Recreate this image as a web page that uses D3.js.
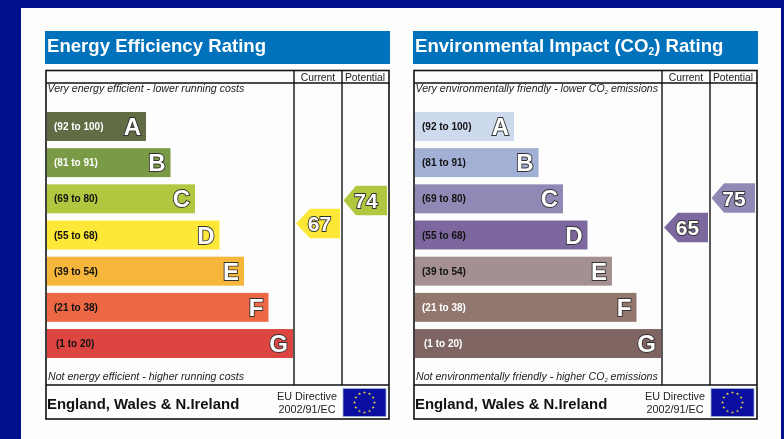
<!DOCTYPE html>
<html>
<head>
<meta charset="utf-8">
<script src="https://cdn.jsdelivr.net/npm/d3@7"></script>
<style>
html, body { margin: 0; padding: 0; background: #00108a; overflow: hidden; }
svg { display: block; filter: blur(0.45px); }
text { font-family: "Liberation Sans", Arial, sans-serif; }
</style>
</head>
<body>
<svg id="chart" width="784" height="439"></svg>
<script>
// Chart values
const bands = ['A', 'B', 'C', 'D', 'E', 'F', 'G'];
const ranges = ['(92 to 100)', '(81 to 91)', '(69 to 80)', '(55 to 68)', '(39 to 54)', '(21 to 38)', '(1 to 20)'];
const energyColors = ['#616c45', '#7a9a45', '#b3c63f', '#fde737', '#f6b53b', '#ec6845', '#dd4540'];
const enviroColors = ['#cdd9ec', '#a3b0d5', '#8f8ab5', '#7c689e', '#a49090', '#92776f', '#7f6562'];
const energyLabelColors = ['#fff', '#fff', '#111', '#111', '#111', '#111', '#111'];
const enviroLabelColors = ['#111', '#111', '#111', '#111', '#111', '#fff', '#fff'];
const energyRatings = { current: 67, potential: 74 };
const enviroRatings = { current: 65, potential: 75 };
const ratingTicks = [65, 67, 74, 75];
const starHours = d3.range(12);

const svg = d3.select('#chart');
const WIDE = 344;

// white page
svg.append('rect').attr('x', 21).attr('y', 8).attr('width', 760).attr('height', 431).attr('fill', '#fdfdfd');

// Scales shared by both panels, positions are relative to the panel's left side
const yBand = d3.scaleBand().domain(bands).range([112, 358]).paddingInner(0.2);
const xEnd = d3.scalePoint().domain(bands).range([100, 247]);
const yRating = d3.scaleLinear().domain(ratingTicks).range([227.5, 223.5, 200.5, 198]);
const starAngle = d3.scaleLinear().domain([0, 12]).range([0, 2 * Math.PI]);

function addRich(sel, parts) {
    // parts are plain strings, or [string] for a subscript
    parts.forEach(p => {
        if (Array.isArray(p)) {
            sel.append('tspan').text(p[0]).attr('font-size', '0.55em').attr('dy', '0.32em');
        } else {
            const t = sel.append('tspan').text(p);
            if (sel.selectAll('tspan').size() > 1) t.attr('dy', '-0.18em');
        }
    });
}

function drawPanel(left, opts) {
    const g = svg.append('g').attr('transform', `translate(${left},0)`);

    // Title strip
    g.append('rect').attr('x', -1).attr('y', 31).attr('width', WIDE + 1).attr('height', 33).attr('fill', '#0071bb');
    const title = g.append('text').attr('x', 1).attr('y', 52).attr('fill', '#fff')
        .attr('font-size', 18.6).attr('font-weight', 'bold');
    addRich(title, opts.title);

    // Frame
    const lineCol = '#111';
    g.append('rect').attr('x', 0).attr('y', 70.5).attr('width', 343).attr('height', 348.5)
        .attr('fill', 'none').attr('stroke', lineCol).attr('stroke-width', 1.6);
    [[0, 83, 343, 83], [0, 385, 343, 385], [248, 70, 248, 385], [296, 70, 296, 385]].forEach(l => {
        g.append('line').attr('x1', l[0]).attr('y1', l[1]).attr('x2', l[2]).attr('y2', l[3])
            .attr('stroke', lineCol).attr('stroke-width', 1.4);
    });

    g.append('text').attr('x', 272).attr('y', 81).attr('text-anchor', 'middle').attr('font-size', 10.3)
        .attr('fill', '#222').text('Current');
    g.append('text').attr('x', 319).attr('y', 81).attr('text-anchor', 'middle').attr('font-size', 10.3)
        .attr('fill', '#222').text('Potential');

    // Top and bottom captions
    const top = g.append('text').attr('x', 1.5).attr('y', 92).attr('font-size', 10.6)
        .attr('font-style', 'italic').attr('fill', '#222');
    addRich(top, opts.topText);
    const bottom = g.append('text').attr('x', 2).attr('y', 380).attr('font-size', 10.6)
        .attr('font-style', 'italic').attr('fill', '#222');
    addRich(bottom, opts.bottomText);

    // Bars
    g.selectAll('rect.bar').data(bands).join('rect').attr('class', 'bar')
        .attr('x', 1)
        .attr('y', d => yBand(d))
        .attr('width', d => xEnd(d) - 1)
        .attr('height', yBand.bandwidth())
        .attr('fill', (d, i) => opts.colors[i]);

    g.selectAll('text.range').data(bands).join('text').attr('class', 'range')
        .attr('x', d => d === 'G' ? 10 : 8)
        .attr('y', d => yBand(d) + yBand.bandwidth() / 2 + 3.5)
        .attr('font-size', 10).attr('font-weight', 'bold')
        .attr('fill', (d, i) => opts.labelColors[i])
        .text((d, i) => ranges[i]);

    g.selectAll('text.letter').data(bands).join('text').attr('class', 'letter')
        .attr('x', d => xEnd(d) - 5)
        .attr('y', d => yBand(d) + yBand.bandwidth() / 2 + 8.5)
        .attr('text-anchor', 'end').attr('font-size', 24).attr('font-weight', 'bold')
        .attr('fill', '#fff').attr('stroke', '#333').attr('stroke-width', 1.8)
        .attr('paint-order', 'stroke')
        .text(d => d);

    // Rating arrows
    const arrows = [
        { value: opts.ratings.current, tip: 250, neck: 264, right: 294 },
        { value: opts.ratings.potential, tip: 297.5, neck: 310, right: 341 }
    ];
    const bandOf = v => v >= 92 ? 0 : v >= 81 ? 1 : v >= 69 ? 2 : v >= 55 ? 3 : v >= 39 ? 4 : v >= 21 ? 5 : 6;
    arrows.forEach(a => {
        const cy = yRating(a.value);
        const half = 14.7;
        const path = d3.path();
        path.moveTo(a.tip, cy);
        path.lineTo(a.neck, cy - half);
        path.lineTo(a.right, cy - half);
        path.lineTo(a.right, cy + half);
        path.lineTo(a.neck, cy + half);
        path.closePath();
        g.append('path').attr('d', path.toString()).attr('fill', opts.colors[bandOf(a.value)]);
        g.append('text').attr('x', (a.neck + a.right) / 2 - 5.5).attr('y', cy + 7.5)
            .attr('text-anchor', 'middle').attr('font-size', 21).attr('font-weight', 'bold')
            .attr('fill', '#fff').attr('stroke', '#333').attr('stroke-width', 1.8)
            .attr('paint-order', 'stroke').text(a.value);
    });

    // Footer
    g.append('text').attr('x', 1).attr('y', 409).attr('font-size', 14.9).attr('font-weight', 'bold')
        .attr('fill', '#111').text('England, Wales & N.Ireland');
    g.append('text').attr('x', 261).attr('y', 400).attr('text-anchor', 'middle').attr('font-size', 10.8)
        .attr('fill', '#222').text('EU Directive');
    g.append('text').attr('x', 261).attr('y', 413).attr('text-anchor', 'middle').attr('font-size', 10.8)
        .attr('fill', '#222').text('2002/91/EC');

    // EU flag
    g.append('rect').attr('x', 297).attr('y', 388.5).attr('width', 43).attr('height', 28)
        .attr('fill', '#0a0fa0').attr('stroke', '#9db4d8').attr('stroke-width', 0.8);
    const star = d3.symbol().type(d3.symbolStar).size(3);
    g.selectAll('path.star').data(starHours).join('path').attr('class', 'star')
        .attr('d', star).attr('fill', '#f5dc3a')
        .attr('transform', d => `translate(${318.5 + 10 * Math.sin(starAngle(d))},${402.5 - 10 * Math.cos(starAngle(d))})`);
}

drawPanel(46, {
    title: ['Energy Efficiency Rating'],
    topText: ['Very energy efficient - lower running costs'],
    bottomText: ['Not energy efficient - higher running costs'],
    colors: energyColors,
    labelColors: energyLabelColors,
    ratings: energyRatings
});

drawPanel(414, {
    title: ['Environmental Impact (CO', ['2'], ') Rating'],
    topText: ['Very environmentally friendly - lower CO', ['2'], ' emissions'],
    bottomText: ['Not environmentally friendly - higher CO', ['2'], ' emissions'],
    colors: enviroColors,
    labelColors: enviroLabelColors,
    ratings: enviroRatings
});
</script>
</body>
</html>
